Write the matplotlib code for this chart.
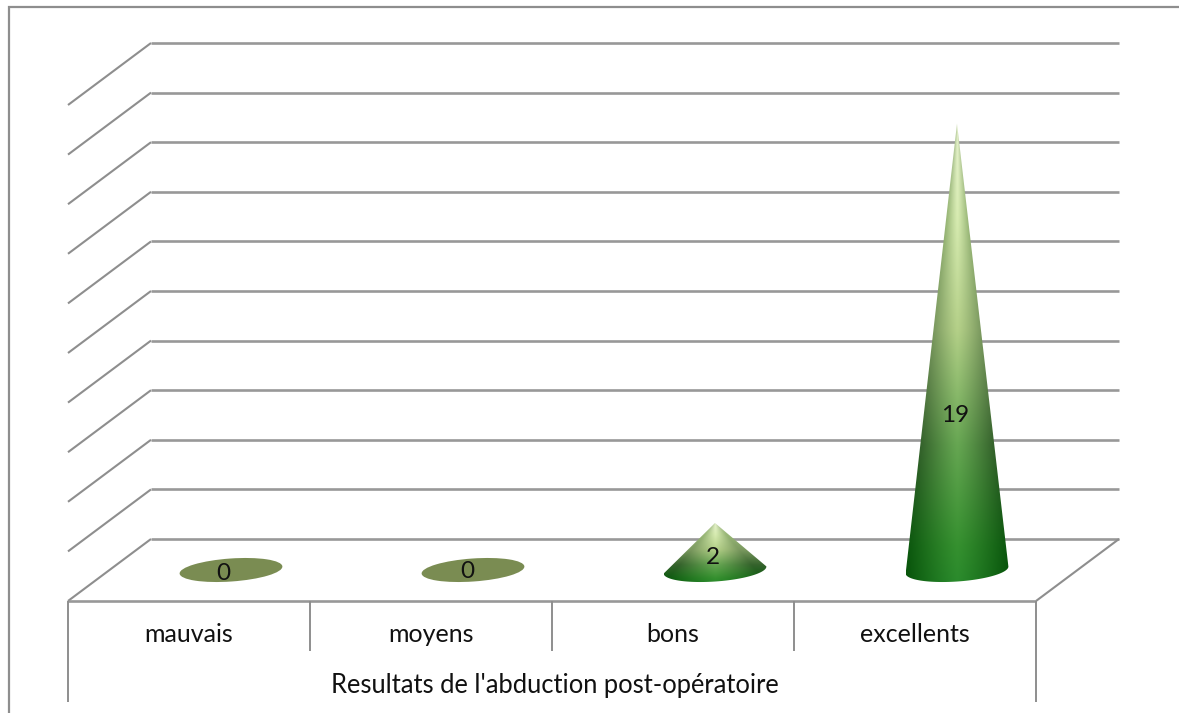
import numpy as np
import matplotlib
matplotlib.use("Agg")
import matplotlib.pyplot as plt
from matplotlib.patches import PathPatch, Ellipse
from matplotlib.path import Path
from matplotlib.colors import to_rgb

categories = ["mauvais", "moyens", "bons", "excellents"]
values = [0, 0, 2, 19]
axis_title = "Resultats de l'abduction post-opératoire"
grid_values = list(range(0, 21, 2))

W, H = 1179, 715
GREY = "#8e8e8e"
GRID_GREY = "#989898"
FLAT = "#7a8c52"

# Projection of the 3D box onto the figure, in pixels from the top-left corner
BACK_LEFT, BACK_RIGHT = 151.0, 1119.0
FRONT_LEFT, FRONT_RIGHT = 68.0, 1036.0
BACK_Y0, FRONT_Y0 = 539.0, 601.0
GRID_STEP = 49.6 / 2
CONE_STEP = 23.5
FIRST_CX, CX_STEP, CONE_BASE_Y = 231.0, 242.0, 570.0
BASE_A, BASE_B, TILT = 51.5, 11.5, 4.0
FONT = "Lato"
TEXT_COLOR = "#111111"

fig = plt.figure(figsize=(W / 100, H / 100), dpi=100)
ax = fig.add_axes([0, 0, 1, 1])
ax.set_xlim(0, W)
ax.set_ylim(H, 0)
ax.axis("off")


def seg(xs, ys, lw=2.0, color=GREY, z=1):
    ax.plot(xs, ys, color=color, lw=lw, solid_capstyle="butt", solid_joinstyle="miter", zorder=z)


# Outer chart frame, cut off at the right and bottom
seg([8.5, 8.5, W], [H - 2, 6.5, 6.5], lw=1.6)

# Back wall and side wall gridlines
depth = FRONT_Y0 - BACK_Y0
for v in grid_values[1:]:
    y = BACK_Y0 - v * GRID_STEP
    seg([FRONT_LEFT, BACK_LEFT], [y + depth, y], lw=1.5)
    seg([BACK_LEFT, BACK_RIGHT], [y, y], lw=1.9, color=GRID_GREY)

# Floor outline
seg([FRONT_LEFT, BACK_LEFT], [FRONT_Y0, BACK_Y0], lw=1.5)
seg([BACK_LEFT, BACK_RIGHT], [BACK_Y0, BACK_Y0], lw=1.9, color=GRID_GREY)
seg([BACK_RIGHT, FRONT_RIGHT], [BACK_Y0, FRONT_Y0], lw=1.5)
seg([FRONT_RIGHT, FRONT_LEFT], [FRONT_Y0, FRONT_Y0], lw=1.9, color=GRID_GREY)

# Multi-level category axis below the floor
cell = (FRONT_RIGHT - FRONT_LEFT) / len(categories)
for i in range(len(categories) + 1):
    x = FRONT_LEFT + i * cell
    outer = i in (0, len(categories))
    seg([x, x], [FRONT_Y0, 702 if outer else 651], lw=1.4)
for i, name in enumerate(categories):
    ax.text(FRONT_LEFT + (i + 0.5) * cell, 635, name, ha="center", va="center",
            family=FONT, fontsize=18, color=TEXT_COLOR)
ax.text((FRONT_LEFT + FRONT_RIGHT) / 2 + 3, 685.5, axis_title, ha="center", va="center",
        family=FONT, fontsize=18.4, color=TEXT_COLOR)

# Colour stops along the height of a cone: axis colour and rim colour
T = np.array([0.0, 0.08, 0.30, 0.55, 0.8, 1.0])
CORE = np.array([to_rgb(c) for c in ["#2a8a2c", "#35902f", "#66a652", "#b4d088", "#d8ecb2", "#e8f3d0"]])
RIM = np.array([to_rgb(c) for c in ["#07540a", "#0e5a10", "#35632c", "#7c9a60", "#9ab878", "#bdd0a4"]])


def cone_image(n_rows, n_cols):
    t = np.linspace(1, 0, n_rows)[:, None]
    u = np.abs(np.linspace(-1, 1, n_cols))[None, :]
    img = np.zeros((n_rows, n_cols, 3))
    for ch in range(3):
        core = np.interp(t[:, 0], T, CORE[:, ch])[:, None]
        rim = np.interp(t[:, 0], T, RIM[:, ch])[:, None]
        # The rim tone narrows with the silhouette towards the apex
        width = np.maximum(1 - t, 0.02)
        w = np.clip(u / width, 0, 1) ** 1.2
        img[:, :, ch] = core * (1 - w) + rim * w
    return img


for i, v in enumerate(values):
    cx = FIRST_CX + i * CX_STEP
    cy = CONE_BASE_Y
    if v == 0:
        ax.add_patch(Ellipse((cx, cy), 2 * BASE_A, 2 * BASE_B, angle=-TILT,
                             facecolor=FLAT, edgecolor="none", zorder=3))
        ax.text(cx - 8 if i == 0 else cx - 6, cy + 3 if i == 0 else cy + 1, str(v),
                ha="center", va="center", family=FONT, fontsize=17.5,
                color=TEXT_COLOR, zorder=5)
        continue
    tip_y = cy - v * CONE_STEP
    # Silhouette: the lower half of the tilted base ellipse closed at the apex
    th = np.radians(TILT)
    a = np.linspace(0, np.pi, 80)
    ex = BASE_A * np.cos(a)
    ey = BASE_B * np.sin(a)
    px = cx + ex * np.cos(th) + ey * np.sin(th)
    py = cy - ex * np.sin(th) + ey * np.cos(th)
    verts = np.vstack([[cx, tip_y], np.c_[px, py], [cx, tip_y]])
    codes = [Path.MOVETO] + [Path.LINETO] * (len(verts) - 2) + [Path.CLOSEPOLY]
    clip = PathPatch(Path(verts, codes), facecolor="none", edgecolor="none", transform=ax.transData)
    ax.add_patch(clip)
    im = ax.imshow(cone_image(512, 256), extent=[cx - BASE_A, cx + BASE_A, cy + BASE_B + 2, tip_y],
                   aspect="auto", zorder=3, interpolation="bilinear")
    im.set_clip_path(clip)
    label_y = cy - v * CONE_STEP * 0.35 + 2 if v > 2 else cy - 13
    ax.text(cx - 2, label_y, str(v), ha="center", va="center",
            family=FONT, fontsize=17.5, color=TEXT_COLOR, zorder=5)

ax.set_xlim(0, W)
ax.set_ylim(H, 0)
fig.savefig("out.png", dpi=100, facecolor="white")
